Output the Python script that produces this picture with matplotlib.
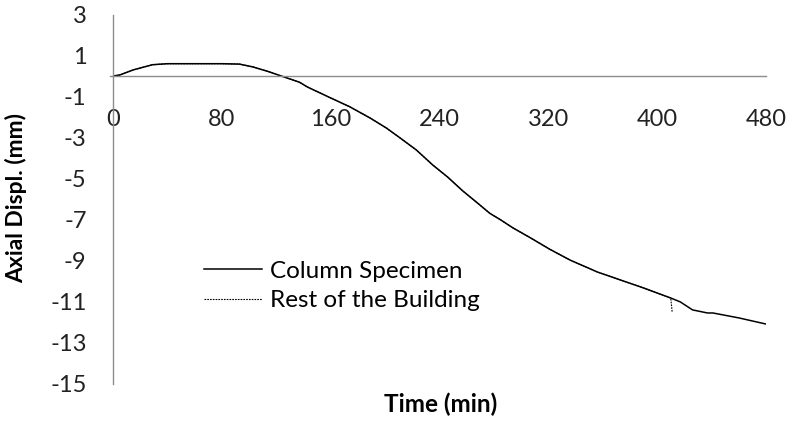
import matplotlib
matplotlib.use("Agg")
import matplotlib.pyplot as plt

# time (min) and axial displacement (mm)
col_time = [0, 5, 15, 29, 40, 60, 80, 93, 103, 115, 128, 137, 143, 160, 174,
            189, 201, 211, 223, 235, 246, 257, 268, 277, 285, 294, 307, 321,
            336, 356, 373, 390, 410, 417, 426, 437, 441, 460, 480]
col_disp = [0.0, 0.05, 0.3, 0.55, 0.6, 0.6, 0.6, 0.58, 0.44, 0.2, -0.1, -0.3,
            -0.54, -1.07, -1.5, -2.05, -2.54, -3.02, -3.61, -4.34, -4.93,
            -5.6, -6.2, -6.7, -7.02, -7.41, -7.9, -8.45, -8.98, -9.56,
            -9.95, -10.34, -10.83, -11.02, -11.41, -11.56, -11.56, -11.8,
            -12.1]

rest_time = [0, 5, 15, 29, 40, 60, 80, 93, 103, 115, 128, 137, 143, 160, 174,
             189, 201, 211, 223, 235, 246, 257, 268, 277, 285, 294, 307, 321,
             336, 356, 373, 390, 410, 411]
rest_disp = [0.0, 0.05, 0.3, 0.55, 0.6, 0.6, 0.6, 0.58, 0.44, 0.2, -0.1, -0.3,
             -0.54, -1.07, -1.5, -2.05, -2.54, -3.02, -3.61, -4.34, -4.93,
             -5.6, -6.2, -6.7, -7.02, -7.41, -7.9, -8.45, -8.98, -9.56,
             -9.95, -10.34, -10.83, -11.5]

x_ticks = [0, 80, 160, 240, 320, 400, 480]
y_ticks = [3, 1, -1, -3, -5, -7, -9, -11, -13, -15]

plt.rcParams['font.family'] = ['Lato', 'DejaVu Sans']

fig = plt.figure(figsize=(7.95, 4.29), dpi=100)
ax = fig.add_axes([113 / 795, 1 - 383.5 / 429, (766 - 113) / 795, 369 / 429])

ax.plot(col_time, col_disp, color='black', lw=1.1, label='Column Specimen')
ax.plot(rest_time, rest_disp, color='black', lw=0.8, linestyle=(0, (1.5, 1)),
        label='Rest of the Building')

ax.set_xlim(0, 480)
ax.set_ylim(-15, 3)
ax.set_xticks(x_ticks)
ax.set_xticklabels([str(v) for v in x_ticks])
ax.set_yticks(y_ticks)
ax.set_yticklabels([str(v) for v in y_ticks])

ax.spines['top'].set_visible(False)
ax.spines['right'].set_visible(False)
ax.spines['bottom'].set_position(('data', 0))
for s in ('left', 'bottom'):
    ax.spines[s].set_color('#8c8c8c')
    ax.spines[s].set_linewidth(1.0)
# the zero line pokes a little past the y axis on the left
ax.plot([-2.5, 0], [0, 0], color='#8c8c8c', lw=1.0, clip_on=False)

ax.tick_params(axis='x', length=0, pad=24, labelsize=17, colors='#222222')
ax.tick_params(axis='y', length=0, pad=19, labelsize=17, colors='#222222')

ax.set_xlabel('Time (min)', fontsize=17.5, fontweight='bold')
ax.xaxis.set_label_coords((441 - 113) / 653, -(393 - 383.5) / 369)
ax.set_ylabel('Axial Displ. (mm)', fontsize=16.5, fontweight='bold')
ax.yaxis.set_label_coords(-(113 - 27) / 653, (383.5 - 198) / 369)

ax.legend(loc='upper left', bbox_to_anchor=(182 / 795, 1 - 239 / 429),
          bbox_transform=fig.transFigure, frameon=False, fontsize=17.5,
          handlelength=2.4, handletextpad=0.3, labelspacing=0.35)

fig.savefig('out.png', dpi=100)
